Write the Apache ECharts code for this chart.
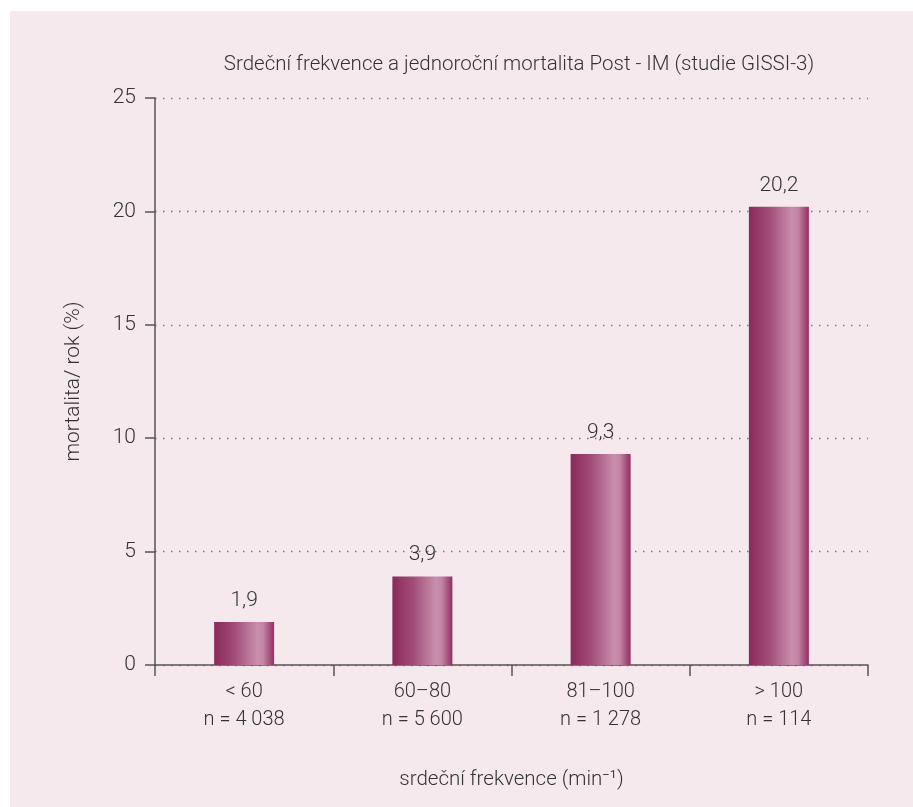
<!DOCTYPE html>
<html><head><meta charset="utf-8">
<script src="https://cdn.jsdelivr.net/npm/echarts@6/dist/echarts.min.js"></script>
<style>
html,body{margin:0;padding:0;background:#fff;}
#bg{position:absolute;left:10px;top:11px;width:903px;height:796px;background:#f5e9ee;}
#c{position:absolute;left:0;top:0;width:913px;height:807px;}
</style></head>
<body><div id="bg"></div><div id="c"></div>
<script>
const categories = ['< 60\nn = 4 038', '60–80\nn = 5 600', '81–100\nn = 1 278', '> 100\nn = 114'];
const mortality = [1.9, 3.9, 9.3, 20.2];
const yTicks = [0, 5, 10, 15, 20, 25];
const titleText = 'Srdeční frekvence a jednoroční mortalita Post - IM (studie GISSI-3)';
const xName = 'srdeční frekvence (min⁻¹)';
const yName = 'mortalita/ rok (%)';

const font = 'Roboto, "Liberation Sans", sans-serif';
const chart = echarts.init(document.getElementById('c'));
const grad = new echarts.graphic.LinearGradient(0, 0, 1, 0, [
  {offset: 0, color: '#8a2a5a'},
  {offset: 0.35, color: '#a24e79'},
  {offset: 0.72, color: '#c88eab'},
  {offset: 0.82, color: '#c285a3'},
  {offset: 1, color: '#922f63'}
]);
chart.setOption({
  backgroundColor: 'transparent',
  title: {
    text: titleText, left: 514, top: 49, textAlign: 'center',
    textStyle: {fontFamily: font, fontWeight: 300, fontSize: 20.5, color: '#333'}
  },
  grid: {left: 155, right: 45, top: 98, bottom: 142, containLabel: false},
  xAxis: {
    type: 'category', data: categories,
    name: xName, nameLocation: 'middle', nameGap: 104,
    nameTextStyle: {fontFamily: font, fontWeight: 300, fontSize: 20.5, color: '#333'},
    axisLine: {lineStyle: {color: '#555', width: 1.5}},
    axisTick: {show: true, length: 11, lineStyle: {color: '#555', width: 1.5}},
    axisLabel: {fontFamily: font, fontWeight: 300, fontSize: 20, color: '#333', margin: 13, lineHeight: 28}
  },
  yAxis: {
    type: 'value', min: yTicks[0], max: yTicks[yTicks.length - 1], interval: 5,
    name: yName, nameLocation: 'middle', nameGap: 71, nameRotate: 90,
    nameTextStyle: {fontFamily: font, fontWeight: 300, fontSize: 21, color: '#333'},
    axisLine: {show: true, lineStyle: {color: '#555', width: 1.5}},
    axisTick: {show: true, length: 10, lineStyle: {color: '#555', width: 1.5}},
    axisLabel: {fontFamily: font, fontWeight: 300, fontSize: 21, color: '#333', margin: 19},
    splitLine: {show: true, lineStyle: {color: '#777', width: 1.3, type: [1.5, 6.5]}}
  },
  series: [{
    type: 'bar', data: mortality, barWidth: 60,
    itemStyle: {color: grad},
    label: {
      show: true, position: 'top', distance: 11,
      formatter: p => String(p.value).replace('.', ','),
      fontFamily: font, fontWeight: 300, fontSize: 21, color: '#333'
    }
  }]
});
</script></body></html>
